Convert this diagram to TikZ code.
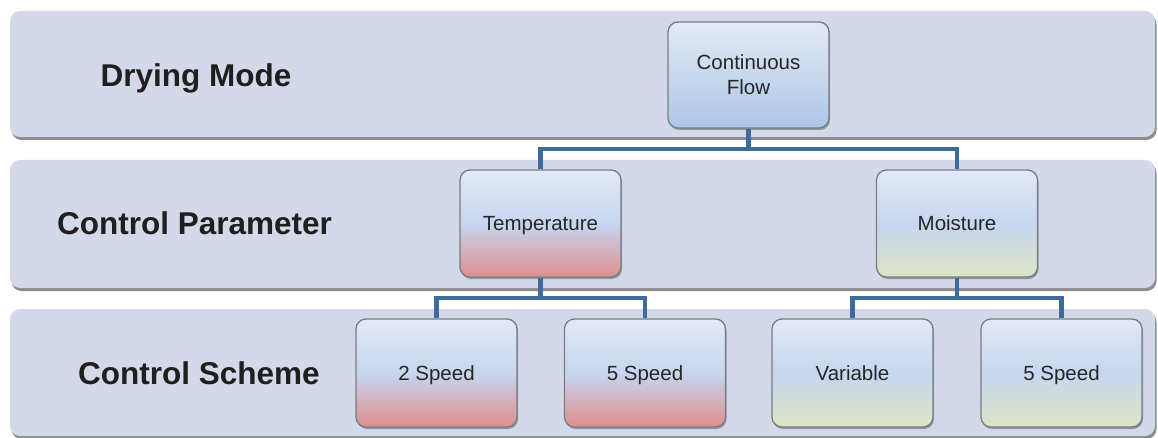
\documentclass[tikz,border=0pt]{standalone}
\usepackage{fontspec}
\setmainfont{Liberation Sans}
\usetikzlibrary{shadows}
\definecolor{bandfill}{HTML}{D3D9E8}
\definecolor{boxline}{HTML}{767D88}
\definecolor{conn}{HTML}{3F6A9E}
\definecolor{toplt}{HTML}{E3E9F5}
\definecolor{blu}{HTML}{AEC6E7}
\definecolor{midblu}{HTML}{C6D6EF}
\definecolor{pink}{HTML}{DF8E8D}
\definecolor{grn}{HTML}{DDE5C3}
\tikzset{
  band/.style={fill=bandfill, rounded corners=10pt,
    drop shadow={shadow xshift=1.5pt, shadow yshift=-3pt, opacity=0.45, fill=black}},
  lbl/.style={font=\fontsize{31.5}{36}\selectfont\bfseries, text=black!88,
    text height=22.7pt, text depth=0pt},
  box/.style={draw=boxline, line width=1.3pt, rounded corners=10pt,
    minimum width=161pt, minimum height=107pt, align=center,
    font=\fontsize{20.5}{25}\selectfont, text=black!85,
    drop shadow={shadow xshift=1pt, shadow yshift=-2pt, opacity=0.3, fill=black}},
  oneline/.style={text height=14.8pt, text depth=0pt},
  bluebox/.style={box, top color=toplt, bottom color=blu},
  redbox/.style={box, oneline, top color=toplt, bottom color=pink, middle color=midblu},
  greenbox/.style={box, oneline, top color=toplt, bottom color=grn, middle color=midblu},
  wire/.style={draw=conn, line width=4.5pt},
}
\begin{document}
\begin{tikzpicture}[x=1pt,y=1pt]
\useasboundingbox (0,0) rectangle (1158,437);
% bands
\path[band] (10,300) rectangle (1155,426);
\path[band] (10,149) rectangle (1155,277);
\path[band] (10,1) rectangle (1155,128);
% band labels
\node[lbl] (l1) at (196,362) {Drying Mode};
\node[lbl] (l2) at (194.5,213.5) {Control Parameter};
\node[lbl] (l3) at (199,64) {Control Scheme};
% connector junctions
\coordinate (j1) at (748.5,288);
\coordinate (j2) at (540.5,139);
\coordinate (j3) at (957,139);
% nodes
\node[bluebox, minimum height=106pt] (cf) at (748.5,362) {Continuous\\Flow};
\node[redbox] (temp) at (540.5,213.5) {Temperature};
\node[greenbox] (moist) at (957,213.5) {Moisture};
\node[redbox, minimum height=108pt] (s2) at (436.5,64) {2 Speed};
\node[redbox, minimum height=108pt] (s5a) at (645,64) {5 Speed};
\node[greenbox, minimum height=108pt] (var) at (852.5,64) {Variable};
\node[greenbox, minimum height=108pt] (s5b) at (1061.5,64) {5 Speed};
% connectors
\draw[wire] (cf.south) -- (j1);
\draw[wire] (temp.north) |- (j1) -| (moist.north);
\draw[wire] (temp.south) -- (j2);
\draw[wire] (s2.north) |- (j2) -| (s5a.north);
\draw[wire] (moist.south) -- (j3);
\draw[wire] (var.north) |- (j3) -| (s5b.north);
\end{tikzpicture}
\end{document}
